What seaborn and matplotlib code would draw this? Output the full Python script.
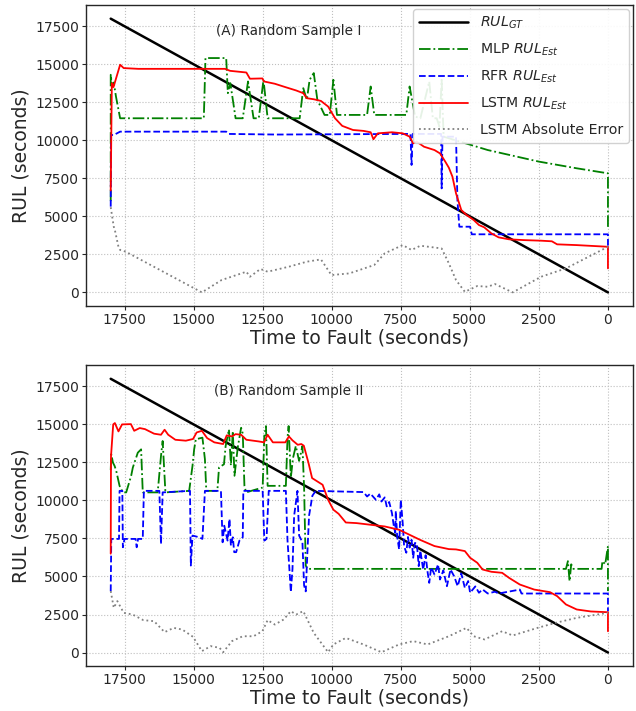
import matplotlib
matplotlib.use("Agg")
import matplotlib.pyplot as plt
import seaborn as sns

# ---- (A) Random Sample I ----
a_gt_t = [18000, 0]
a_gt_v = [18000, 0]

a_mlp_t = [18000, 18000, 17950, 17890, 17810, 17660, 14630, 14570, 13820, 13760, 13670, 13480, 13220,
           13030, 12830, 12640, 12470, 12320, 11160, 11030, 10900, 10800, 10650, 10520, 10260, 10070,
           9940, 9810, 8720, 8590, 8460, 7300, 7180, 6980, 6790, 6470, 6340, 6200, 6100, 6020, 5950,
           4350, 2500, 1130, 0, 0]
a_mlp_v = [6000, 14310, 13540, 13800, 12880, 11450, 11450, 15410, 15410, 13100, 13760, 11450, 11450,
           13870, 11450, 11450, 13980, 11450, 11450, 13430, 12660, 13980, 14420, 12660, 11670, 11670,
           13980, 11670, 11670, 13540, 11670, 11670, 13540, 11560, 11450, 13870, 11450, 11450, 10900,
           13980, 10240, 9360, 8600, 8160, 7830, 4210]

a_rfr_t = [18000, 17990, 17890, 17660, 13820, 13730, 12000, 7300, 7150, 7110, 7070, 6080, 6040, 6020,
           5990, 5500, 5450, 5380, 4990, 4930, 0, 0]
a_rfr_v = [5640, 10350, 10350, 10570, 10570, 10420, 10380, 10420, 10420, 8380, 10420, 10420, 10420, 6840,
           10240, 10240, 6070, 4320, 4320, 3820, 3820, 2800]

a_lstm_t = [18000, 17960, 17900, 17660, 17530, 17000, 13860, 13680, 13090, 12960, 12510, 12450, 12060,
            11680, 11290, 11030, 10900, 10650, 10390, 10130, 9880, 9620, 9230, 8850, 8590, 8490, 8330,
            7820, 7430, 7180, 7050, 6920, 6660, 6280, 6080, 5890, 5760, 5630, 5500, 5310, 5120, 4860,
            4670, 4480, 4220, 3960, 3580, 3060, 2420, 2030, 1840, 1130, 0, 0]
a_lstm_v = [6700, 13760, 13500, 14970, 14750, 14700, 14700, 14570, 14460, 14050, 14070, 13870, 13720,
            13500, 13280, 13100, 12770, 12700, 12590, 12220, 11450, 10950, 10680, 10620, 10530, 10070,
            10460, 10530, 10460, 10240, 9800, 9910, 9580, 9360, 9140, 8600, 8200, 7610, 6510, 5420,
            5090, 4760, 4430, 4280, 3880, 3620, 3490, 3440, 3400, 3360, 3160, 3110, 3000, 1580]

a_err_t = [18000, 17890, 17850, 17720, 17660, 17460, 14700, 13990, 13090, 12960, 12580, 12320, 11550,
           10900, 10390, 10010, 9360, 8460, 8080, 7430, 7110, 6790, 6020, 5760, 5500, 5180, 4730, 4350,
           4090, 3450, 2420, 1520, 0]
a_err_v = [5600, 4320, 4100, 3000, 2790, 2680, 0, 810, 1360, 1030, 1540, 1360, 1690, 2020, 2170, 1140,
           1250, 1800, 2570, 3110, 2790, 3070, 2890, 1910, 810, 40, 420, 370, 550, 0, 1030, 1580, 3000]

# ---- (B) Random Sample II ----
b_gt_t = [18000, 0]
b_gt_v = [18000, 0]

b_mlp_t = [18000, 17980, 17920, 17860, 17800, 17680, 17560, 17440, 17260, 17200, 17140, 17020, 16900,
           16840, 16300, 16180, 16120, 16020, 15160, 15040, 14980, 14920, 14680, 14590, 14540, 14140,
           14080, 13900, 13840, 13720, 13650, 13580, 13520, 13400, 13280, 13220, 13160, 13100, 12500,
           12440, 12380, 12320, 11660, 11600, 11560, 11480, 11400, 11300, 11180, 11060, 11000, 10940,
           10880, 1520, 1450, 1390, 1330, 1250, 230, 200, 100, 0, 0]
b_mlp_v = [12000, 13040, 12490, 12270, 11940, 10960, 10530, 10530, 11620, 12160, 12490, 13140, 13360,
           10530, 10530, 12930, 13910, 10530, 10630, 12270, 13360, 14020, 14130, 12710, 10630, 10630,
           12160, 12380, 13580, 14670, 12300, 14560, 11620, 13500, 14780, 14400, 10960, 10530, 10850,
           14240, 14890, 10960, 10960, 14130, 14890, 11510, 12800, 13580, 12600, 13580, 10850, 5720,
           5500, 5500, 6010, 4690, 5800, 5500, 5500, 6010, 5800, 7000, 4040]

b_rfr_t = [18000, 17980, 17700, 17680, 17580, 17560, 17500, 17100, 17060, 17010, 16840, 16800, 16240,
           16180, 16120, 15130, 15100, 15040, 14800, 14680, 14590, 14010, 13950, 13890, 13770, 13700,
           13650, 13580, 13530, 13460, 13340, 13220, 13200, 12500, 12440, 12360, 12280, 11660, 11600,
           11540, 11480, 11420, 11360, 11240, 11180, 11060, 11000, 10940, 10880, 10820, 10700, 10580,
           8850, 8720, 8600, 8400, 8280, 8200, 8080, 8010, 7920, 7820, 7750, 7700, 7680, 7630, 7560,
           7500, 7430, 7380, 7300, 7240, 7180, 7110, 7050, 6990, 6920, 6850, 6790, 6690, 6600, 6530,
           6470, 6400, 6280, 6150, 6080, 5960, 5830, 5700, 5570, 5440, 5310, 5180, 5060, 4990, 4800,
           4670, 4540, 4350, 4090, 3960, 3190, 3130, 0, 0]
b_rfr_v = [4040, 7470, 7470, 10630, 10630, 6920, 7470, 7470, 6920, 7470, 7470, 10630, 10630,
           7140, 10530, 10630, 5720, 7690, 7580, 7470, 10630, 10630, 7250, 8340, 7360, 8780,
           7030, 7580, 6600, 6600, 7360, 7580, 10630, 10630, 7360, 7470, 10630, 10630, 7360,
           5720, 3980, 5500, 9000, 10630, 7690, 7250, 4410, 4020, 6600, 9000, 10310, 10630,
           10550, 10260, 10450, 10040, 10400, 9930, 10200, 9610, 9900, 9170, 8290, 7870, 9300, 7630, 6780,
           10040, 8510, 7000, 6560, 7600, 6900, 7410, 6230, 7200, 7190, 5680, 6700, 5460, 6400, 5300,
           4580, 5600, 5130, 5790, 4800, 5400, 4360, 5460, 5020, 4360, 5200, 4250, 4700, 3930, 4350,
           3930, 4150, 3880, 4000, 3880, 4140, 3880, 3880, 2700]

b_lstm_t = [18000, 17990, 17910, 17850, 17720, 17590, 17270, 17150, 16950, 16760, 16430, 16180, 16050,
            15920, 15660, 15280, 15020, 14890, 14700, 14510, 14250, 13930, 13800, 13610, 13480, 13280,
            13090, 12640, 12450, 12320, 12130, 11680, 11550, 11420, 11230, 11100, 11010, 10840, 10710,
            10520, 10330, 10130, 9940, 9750, 9490, 9100, 8590, 8080, 7560, 7180, 6790, 6280, 5760,
            5500, 5180, 4990, 4730, 4540, 4220, 3830, 3580, 3190, 2670, 2100, 1840, 1520, 1130, 620,
            0, 0]
b_lstm_v = [6500, 12900, 15000, 15090, 14540, 15000, 15020, 14580, 14760, 14690, 14390, 14320, 14650,
            14320, 13990, 13930, 14040, 14470, 14580, 14100, 13820, 13710, 14280, 14210, 14360, 14320,
            13990, 13880, 13820, 14320, 13820, 13820, 14210, 13950, 13660, 13710, 13600, 12460, 11470,
            11250, 11030, 10040, 9390, 9120, 8550, 8510, 8400, 8290, 8070, 7740, 7400, 7000, 6800,
            6780, 6670, 6230, 5900, 5460, 5310, 5240, 4910, 4470, 4140, 3970, 3710, 3160, 2830, 2700,
            2650, 1400]

b_err_t = [18000, 17890, 17760, 17530, 17210, 16820, 16430, 16050, 15720, 15410, 15020, 14700, 14380,
           14060, 13930, 13610, 13220, 12830, 12510, 12320, 12060, 11740, 11480, 11290, 11030, 10650,
           10130, 9940, 9490, 8850, 8200, 7560, 7050, 6530, 5760, 5120, 4860, 4470, 3830, 3450, 2550,
           1900, 1130, 0]
b_err_v = [4040, 2940, 3380, 2610, 2500, 2130, 2060, 1340, 1620, 1510, 1030, 90, 420, 310, 20, 750,
           1070, 1070, 1400, 2130, 1840, 2170, 2720, 2500, 2720, 1290, 20, 530, 960, 530, 20, 530, 750,
           530, 1070, 1620, 1070, 860, 1400, 1120, 1620, 1950, 2280, 2610]

sns.set_style("whitegrid", {"grid.linestyle": ":", "grid.color": "0.75",
                            "axes.edgecolor": "0.15", "xtick.bottom": True, "ytick.left": True})
plt.rcParams["font.family"] = ["DejaVu Sans"]

fig, axes = plt.subplots(2, 1, figsize=(6.36, 7.11), dpi=100)
fig.subplots_adjust(left=0.135, right=0.995, top=0.993, bottom=0.063, hspace=0.196)

panels = [
    (axes[0], "(A) Random Sample I", a_gt_t, a_gt_v, a_mlp_t, a_mlp_v, a_rfr_t, a_rfr_v,
     a_lstm_t, a_lstm_v, a_err_t, a_err_v),
    (axes[1], "(B) Random Sample II", b_gt_t, b_gt_v, b_mlp_t, b_mlp_v, b_rfr_t, b_rfr_v,
     b_lstm_t, b_lstm_v, b_err_t, b_err_v),
]

for i, (ax, title, gt_t, gt_v, mlp_t, mlp_v, rfr_t, rfr_v, lstm_t, lstm_v, err_t, err_v) in enumerate(panels):
    sns.lineplot(x=gt_t, y=gt_v, ax=ax, color="black", linewidth=1.8, estimator=None, sort=False,
                 label=r"$RUL_{GT}$", legend=False)
    sns.lineplot(x=mlp_t, y=mlp_v, ax=ax, color="green", linewidth=1.3, linestyle="-.",
                 estimator=None, sort=False, label=r"MLP $RUL_{Est}$", legend=False)
    sns.lineplot(x=rfr_t, y=rfr_v, ax=ax, color="blue", linewidth=1.3, linestyle="--",
                 estimator=None, sort=False, label=r"RFR $RUL_{Est}$", legend=False)
    sns.lineplot(x=lstm_t, y=lstm_v, ax=ax, color="red", linewidth=1.3,
                 estimator=None, sort=False, label=r"LSTM $RUL_{Est}$", legend=False)
    sns.lineplot(x=err_t, y=err_v, ax=ax, color="gray", linewidth=1.3, linestyle=":",
                 estimator=None, sort=False, label="LSTM Absolute Error", legend=False)

    ax.set_xlim(18900, -900)
    ax.set_ylim(-900, 18900)
    ax.set_xticks([17500, 15000, 12500, 10000, 7500, 5000, 2500, 0])
    ax.set_yticks([0, 2500, 5000, 7500, 10000, 12500, 15000, 17500])
    ax.tick_params(labelsize=10, length=3, pad=2, color="0.15")
    ax.set_xlabel("Time to Fault (seconds)", fontsize=13.5, labelpad=1)
    ax.set_ylabel("RUL (seconds)", fontsize=13.5, labelpad=3)
    ax.text(0.37, 0.915, title, transform=ax.transAxes, ha="center", va="center", fontsize=9.8)
    for s in ax.spines.values():
        s.set_linewidth(1.0)

    if i == 0:
        ax.legend(loc="upper right", fontsize=10.2, framealpha=0.9, edgecolor="0.8",
                  borderaxespad=0.3, handlelength=3.5, labelspacing=0.75)
    elif ax.get_legend() is not None:
        ax.get_legend().remove()

fig.savefig("out.png", dpi=100)
